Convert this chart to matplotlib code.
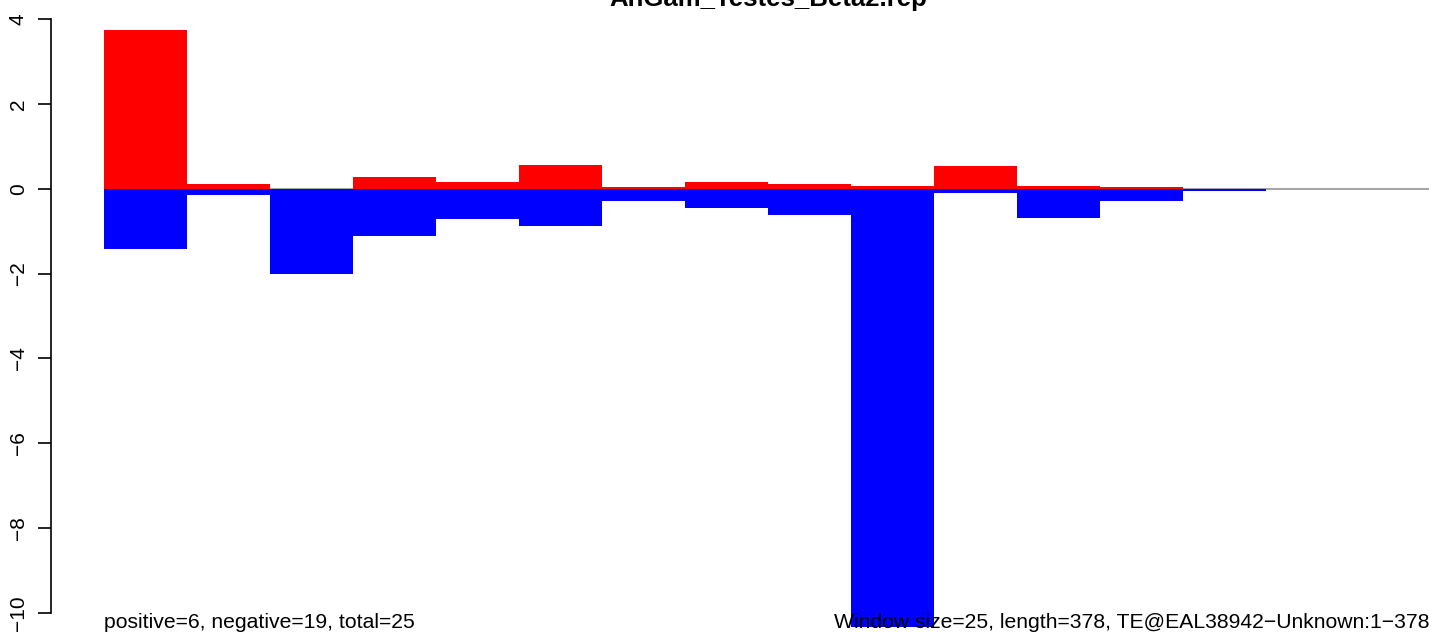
import matplotlib.pyplot as plt

plt.rcParams['font.family'] = ['Liberation Sans', 'DejaVu Sans']

# window bins (25 bp each over 378 bp -> 16 bins)
bins = list(range(16))
pos_vals = [3.74, 0.12, 0.0, 0.28, 0.165, 0.57, 0.05, 0.165, 0.12, 0.07, 0.54, 0.07, 0.05, 0.0, 0.0, 0.0]
neg_vals = [-1.41, -0.14, -2.0, -1.11, -0.71, -0.87, -0.28, -0.45, -0.61, -10.33, -0.11, -0.70, -0.30, -0.05, 0.0, 0.0]
yticks = [4, 2, 0, -2, -4, -6, -8, -10]

title = "AnGam_Testes_Beta2.rep"
left_note = "positive=6, negative=19, total=25"
right_note = "Window size=25, length=378, TE@EAL38942\u2212Unknown:1\u2212378"

W, H, DPI = 1429, 634, 100
x0, bar_px = 104, 83
fig = plt.figure(figsize=(W / DPI, H / DPI), dpi=DPI)
ax = fig.add_axes([x0 / W, 0, 16 * bar_px / W, 1])

# zero line under the bars
ax.axhline(0, color='#a6a6a6', lw=1.5, zorder=1)
ax.bar(bins, pos_vals, width=1, align='edge', color='red', zorder=2)
ax.bar(bins, neg_vals, width=1, align='edge', color='blue', zorder=2)

ax.set_xlim(0, 16)
ax.set_ylim(-10 - 21 / 42.5, 4 + 19 / 42.5)

# R-style left axis
for s in ['top', 'right', 'bottom']:
    ax.spines[s].set_visible(False)
ax.spines['left'].set_position(('outward', 53.5 * 72 / DPI))
ax.spines['left'].set_bounds(-10, 4)
ax.spines['left'].set_linewidth(1.2)
ax.set_xticks([])
ax.set_yticks(yticks)
ax.set_yticklabels([str(t).replace('-', '\u2212') for t in yticks],
                   rotation=90, va='center', fontsize=15)
ax.tick_params(axis='y', length=9.4, width=1.2, pad=7)

ax.text(0, -10.36, left_note, fontsize=15.2, va='baseline', ha='left', zorder=5)
ax.text(8.8, -10.36, right_note, fontsize=15.2, va='baseline', ha='left', zorder=5)

fig.text((x0 + x0 + 16 * bar_px) / 2 / W, 1 - 6 / H, title, fontsize=18.5,
         fontweight='bold', ha='center', va='baseline')

plt.savefig('out.png', dpi=DPI)
